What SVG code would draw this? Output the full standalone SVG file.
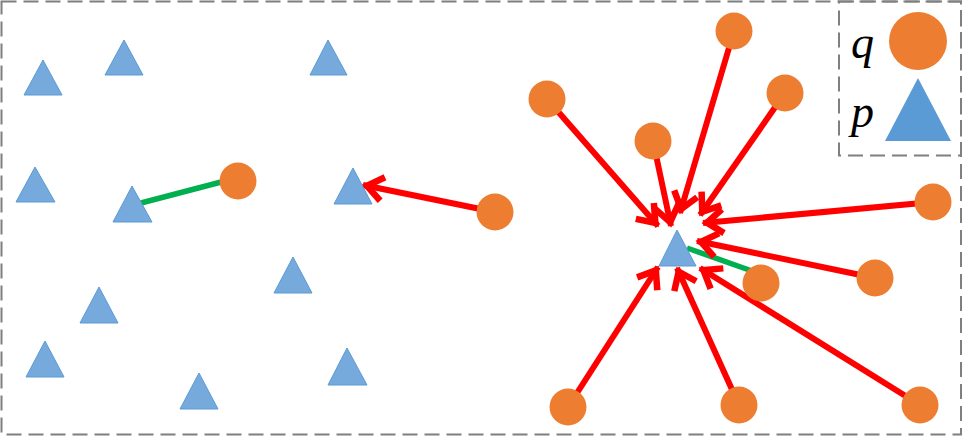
<svg xmlns="http://www.w3.org/2000/svg" width="964" height="436" viewBox="0 0 964 436">
<style>
.frame{fill:none;stroke:#7f7f7f;stroke-width:2;stroke-dasharray:15 7}
.tri{fill:#76a9dc;stroke:#5b9bd5;stroke-width:1}
.q{fill:#ed7d31}
.red{stroke:#ff0000;stroke-width:6;fill:none;marker-end:url(#ah)}
.green{stroke:#00b050;stroke-width:5.5;fill:none}
.lbl{font-family:"Liberation Serif","DejaVu Serif",serif;font-style:italic;font-size:46px;fill:#000}
</style>
<defs>
<marker id="ah" markerUnits="userSpaceOnUse" markerWidth="50" markerHeight="50" viewBox="-25 -25 50 50" refX="0" refY="0" orient="auto" overflow="visible">
<path d="M -20 -12 L -4 0 L -20 12" fill="none" stroke="#ff0000" stroke-width="6.5" stroke-linejoin="miter" stroke-miterlimit="10"/>
</marker>
</defs>
<rect class="frame" x="1.5" y="1.5" width="959.5" height="433"/>
<g id="legend">
<rect class="frame" x="839" y="1.5" width="122" height="154"/>
<text class="lbl" x="851" y="58">q</text>
<circle class="q" cx="918" cy="41" r="29"/>
<text class="lbl" x="851" y="127">p</text>
<polygon points="918,78 885,141 951,141" fill="#5b9bd5"/>
</g>
<g id="connectors">
<line class="green" x1="141" y1="203" x2="225" y2="181"/>
<line class="green" x1="687" y1="248" x2="752" y2="271"/>
<line class="red" x1="495" y1="212" x2="363" y2="185"/>
<line class="red" x1="547" y1="99" x2="658" y2="226"/>
<line class="red" x1="653" y1="141" x2="671" y2="226"/>
<line class="red" x1="734" y1="31" x2="680" y2="213"/>
<line class="red" x1="785" y1="93" x2="700" y2="215"/>
<line class="red" x1="933" y1="202" x2="703" y2="223"/>
<line class="red" x1="875" y1="278" x2="697" y2="241"/>
<line class="red" x1="920" y1="405" x2="700" y2="268"/>
<line class="red" x1="739" y1="405" x2="677" y2="268"/>
<line class="red" x1="568" y1="407" x2="658" y2="267"/>
</g>
<g id="p1"><polygon class="tri" points="43,60 24,95 62,95"/></g>
<g id="p2"><polygon class="tri" points="124,40 105,75 143,75"/></g>
<g id="p3"><polygon class="tri" points="328,40 310,75 347,75"/></g>
<g id="p4"><polygon class="tri" points="35,167 16,202 55,202"/></g>
<g id="p5"><polygon class="tri" points="132,186 113,222 152,222"/></g>
<g id="p6"><polygon class="tri" points="353,168 334,204 372,204"/></g>
<g id="p7"><polygon class="tri" points="293,257 274,293 312,293"/></g>
<g id="p8"><polygon class="tri" points="99,287 80,323 118,323"/></g>
<g id="p9"><polygon class="tri" points="45,341 26,377 64,377"/></g>
<g id="p10"><polygon class="tri" points="199,373 180,409 218,409"/></g>
<g id="p11"><polygon class="tri" points="347,348 328,385 367,385"/></g>
<g id="p12"><polygon class="tri" points="677,230 659,266 696,266"/></g>
<g id="q1"><circle class="q" cx="238" cy="181" r="18.5"/></g>
<g id="q2"><circle class="q" cx="495" cy="212" r="18.5"/></g>
<g id="q3"><circle class="q" cx="547" cy="99" r="18.5"/></g>
<g id="q4"><circle class="q" cx="653" cy="141" r="18.5"/></g>
<g id="q5"><circle class="q" cx="734" cy="31" r="18.5"/></g>
<g id="q6"><circle class="q" cx="785" cy="93" r="18.5"/></g>
<g id="q7"><circle class="q" cx="933" cy="202" r="18.5"/></g>
<g id="q8"><circle class="q" cx="875" cy="278" r="18.5"/></g>
<g id="q9"><circle class="q" cx="761" cy="283" r="18.5"/></g>
<g id="q10"><circle class="q" cx="568" cy="407" r="18.5"/></g>
<g id="q11"><circle class="q" cx="739" cy="405" r="18.5"/></g>
<g id="q12"><circle class="q" cx="920" cy="405" r="18.5"/></g>
</svg>
